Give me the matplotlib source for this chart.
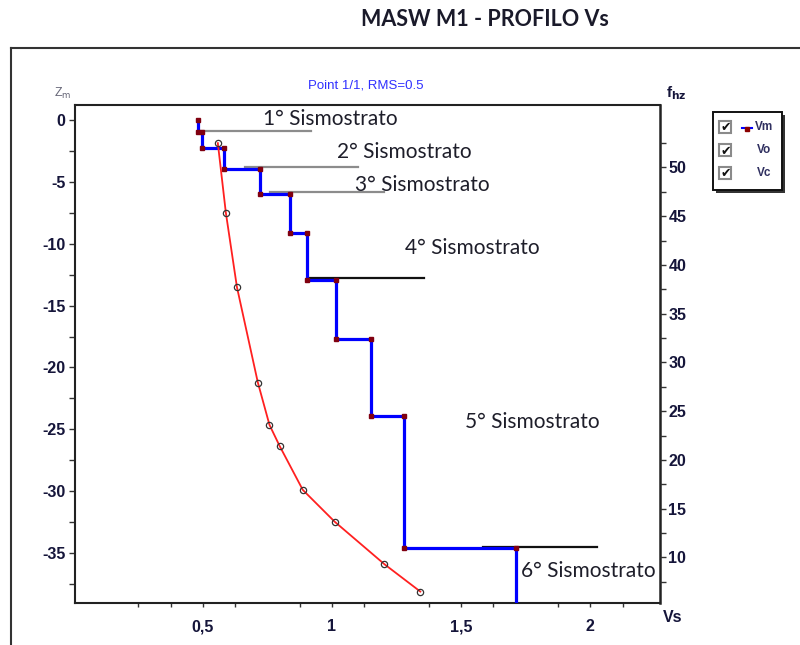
import matplotlib
matplotlib.use("Agg")
import matplotlib.pyplot as plt
from matplotlib.patches import Rectangle
from matplotlib.lines import Line2D

# --- Data -------------------------------------------------------------------
# Layered shear-wave model (Vm): top depth of each layer [m] and its velocity
layer_top = [0.0, -0.99, -2.29, -3.98, -5.98, -9.10, -12.92, -17.69, -23.91, -34.60]
layer_vs = [0.483, 0.498, 0.580, 0.722, 0.838, 0.905, 1.016, 1.152, 1.280, 1.713]
halfspace_bottom = -39.0

# Observed dispersion points (Vo) and computed curve (Vc)
obs_vs = [0.558, 0.589, 0.632, 0.713, 0.758, 0.797, 0.887, 1.010, 1.203, 1.342]
obs_z = [-1.88, -7.49, -13.51, -21.22, -24.64, -26.33, -29.89, -32.45, -35.89, -38.10]
calc_vs = [0.558, 0.589, 0.632, 0.713, 0.758, 0.797, 0.887, 1.010, 1.203, 1.342]
calc_z = [-1.88, -7.49, -13.51, -21.22, -24.64, -26.33, -29.89, -32.45, -35.89, -38.10]

# Boundaries marking the seismic strata: depth, start Vs, end Vs, colour
strata_z = [-0.89, -3.77, -5.84, -12.79, -34.52]
strata_x0 = [0.490, 0.664, 0.761, 0.916, 1.586]
strata_x1 = [0.919, 1.101, 1.202, 1.357, 2.027]
strata_col = ["#8c8c8c", "#8c8c8c", "#8c8c8c", "#111111", "#111111"]
strata_names = ["1° Sismostrato", "2° Sismostrato", "3° Sismostrato",
                "4° Sismostrato", "5° Sismostrato", "6° Sismostrato"]

x_ticks = [0.5, 1.0, 1.5, 2.0]
x_labels = ["0,5", "1", "1,5", "2"]
x_minor = [0.25, 0.375, 0.625, 0.875, 1.125, 1.375, 1.625, 1.875, 2.125]
z_ticks = [0, -5, -10, -15, -20, -25, -30, -35]
z_labels = ["0", "-5", "-10", "-15", "-20", "-25", "-30", "-35"]
f_ticks = [10, 15, 20, 25, 30, 35, 40, 45, 50]

# --- Figure -----------------------------------------------------------------
W, H = 800, 645
fig = plt.figure(figsize=(W / 100, H / 100), dpi=100)
fig.patch.set_facecolor("white")

L, R, T, B = 75, 660, 105, 602.7
ax = fig.add_axes([L / W, 1 - B / H, (R - L) / W, (B - T) / H])
ax.set_xlim(0.005, 2.27)
ax.set_ylim(-39.0, 1.2)

# stepped velocity profile
px, pz = [], []
for i, (top, vs) in enumerate(zip(layer_top, layer_vs)):
    bottom = layer_top[i + 1] if i + 1 < len(layer_top) else halfspace_bottom
    px += [vs, vs]
    pz += [top, bottom]
ax.plot(px, pz, color="#0000ff", lw=2.3, zorder=4, solid_joinstyle="miter")

# corner markers on the profile
mx, mz = [], []
for i, (top, vs) in enumerate(zip(layer_top, layer_vs)):
    mx.append(vs)
    mz.append(top)
    if i + 1 < len(layer_top):
        mx.append(vs)
        mz.append(layer_top[i + 1])
ax.plot(mx, mz, ls="none", marker="s", ms=2.8, color="#800010", zorder=5)

# strata boundaries
for z, x0, x1, c in zip(strata_z, strata_x0, strata_x1, strata_col):
    ax.plot([x0, x1], [z, z], color=c, lw=1.6, zorder=3)

# computed and observed dispersion
ax.plot(calc_vs, calc_z, color="#ff2020", lw=1.3, zorder=5)
ax.plot(obs_vs, obs_z, ls="none", marker="o", ms=4.5, mfc="none",
        mec="#333333", mew=0.9, zorder=6)

tick_col = "#15153a"
tick_font = dict(family="Liberation Sans", weight="bold", size=11.5)
ax.set_xticks(x_ticks)
ax.set_xticklabels(x_labels, color=tick_col, **tick_font)
ax.set_xticks(x_minor, minor=True)
ax.set_yticks(z_ticks)
ax.set_yticklabels(z_labels, color=tick_col, **tick_font)
ax.set_yticks([-2.5 - 5 * k for k in range(8)], minor=True)
ax.tick_params(axis="x", which="both", length=3, width=1, pad=9, color="#333333")
ax.tick_params(axis="y", which="both", length=4, width=1, pad=3, color="#333333")
for s in ax.spines.values():
    s.set_linewidth(1.5)
    s.set_color("#222222")
ax.spines["right"].set_linewidth(1.8)

axr = ax.twinx()
axr.set_ylim(5.35, 56.4)
axr.set_yticks(f_ticks)
axr.set_yticklabels([str(v) for v in f_ticks], color=tick_col, **tick_font)
axr.set_yticks([7.5 + 5 * k for k in range(10)], minor=True)
axr.tick_params(axis="y", which="both", length=4, width=1, pad=2, color="#333333")
for s in axr.spines.values():
    s.set_visible(False)

# --- Overlay in pixel coordinates ---------------------------------------------
ov = fig.add_axes([0, 0, 1, 1], zorder=10)
ov.set_xlim(0, W)
ov.set_ylim(H, 0)
ov.axis("off")
ov.patch.set_alpha(0)

# outer frame
ov.plot([11, W], [48, 48], color="#333333", lw=1.5)
ov.plot([11, 11], [48, H], color="#333333", lw=1.5)

ov.text(485, 20, "MASW M1 - PROFILO Vs", ha="center", va="center",
        family="Lato", weight="bold", size=15.5, color="#1a1a2a")
ov.text(366, 86, "Point 1/1, RMS=0.5", ha="center", va="center",
        family="Liberation Sans", size=9.5, color="#3030ff")
ov.text(63, 93, r"Z$_{\mathrm{m}}$", ha="center", va="center",
        family="Liberation Sans", size=9, color="#666677")
ov.text(676, 93, r"f$_{\mathbf{hz}}$", ha="center", va="center",
        family="Liberation Sans", weight="bold", size=11, color="#15153a")
ov.text(673, 617, "Vs", ha="center", va="center",
        family="Liberation Sans", weight="bold", size=11.5, color="#15153a")

label_pos = [(263, 119), (337, 152), (355, 185), (405, 248), (465, 422), (521, 571)]
for name, (tx, ty) in zip(strata_names, label_pos):
    ov.text(tx, ty, name, ha="left", va="center", family="Lato",
            size=15, color="#1e1e2a")

# legend box with shadow
ov.add_patch(Rectangle((716, 115), 69, 78, facecolor="#333333", edgecolor="none"))
ov.add_patch(Rectangle((713, 112), 69, 78, facecolor="white",
                       edgecolor="#111111", lw=1.4))
leg_rows = [127, 150, 173]
leg_names = ["Vm", "Vo", "Vc"]
leg_x = [755, 757, 757]
for ry, nm, lx in zip(leg_rows, leg_names, leg_x):
    ov.add_patch(Rectangle((719, ry - 6), 12, 12, facecolor="white",
                           edgecolor="#8a8a8a", lw=1.5))
    ov.text(725.5, ry + 1, "\u2714", ha="center", va="center",
            family="DejaVu Sans", size=9, color="#111111")
    ov.text(lx, ry, nm, ha="left", va="center", family="Liberation Sans",
            weight="bold", size=8.5, color="#303060")
ov.add_line(Line2D([742, 752], [128, 128], color="#0000ff", lw=1.5))
ov.plot([747], [129], marker="s", ms=2.2, color="#8b0000")

fig.savefig("out.png", dpi=100)
